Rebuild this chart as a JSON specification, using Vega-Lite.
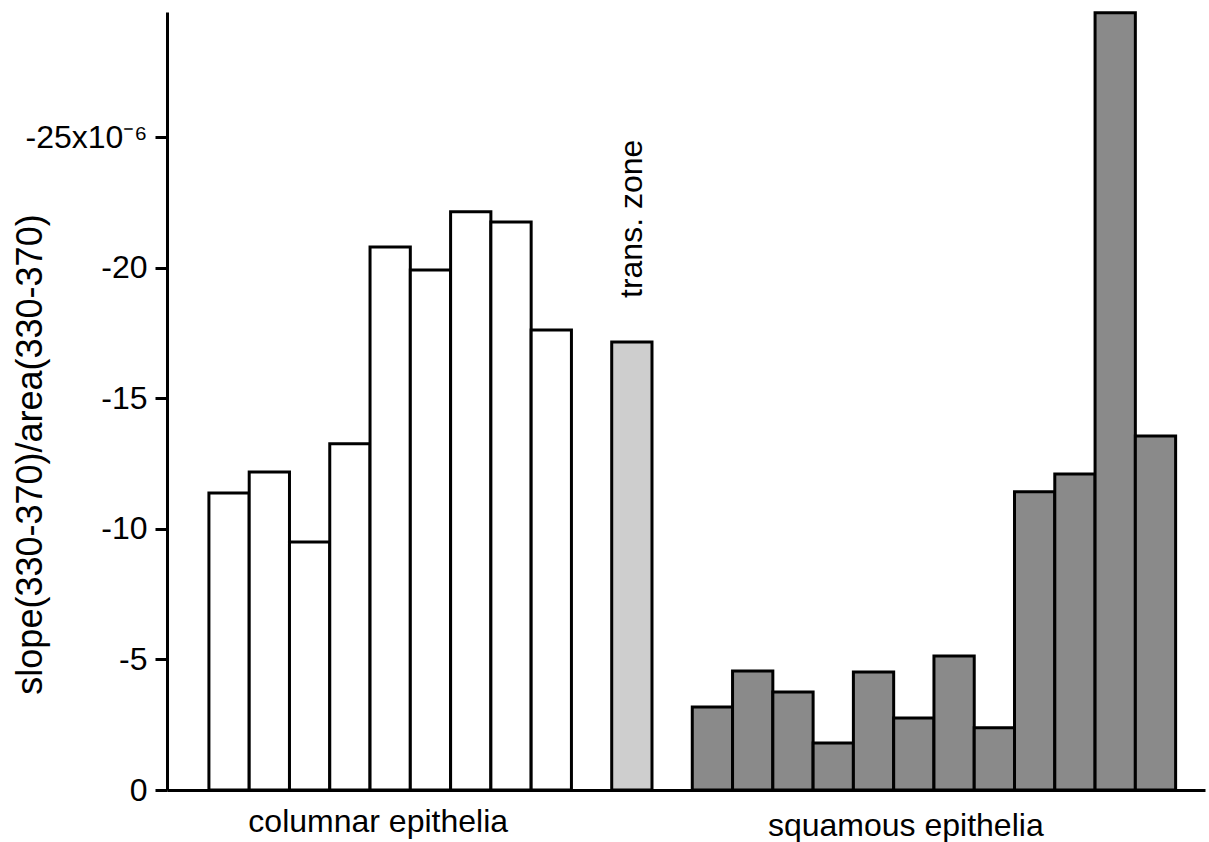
{
  "$schema": "https://vega.github.io/schema/vega-lite/v6.json",
  "width": 1038,
  "height": 778,
  "autosize": {"type": "none"},
  "padding": {"left": 167, "top": 12, "right": 4, "bottom": 52},
  "background": "white",
  "config": {
    "view": {"stroke": null},
    "font": "Liberation Sans",
    "axis": {"grid": false}
  },
  "data": {
    "values": [
      {"id": "c1", "group": "columnar", "value": -11.38, "note": ""},
      {"id": "c2", "group": "columnar", "value": -12.18, "note": ""},
      {"id": "c3", "group": "columnar", "value": -9.5, "note": ""},
      {"id": "c4", "group": "columnar", "value": -13.26, "note": ""},
      {"id": "c5", "group": "columnar", "value": -20.8, "note": ""},
      {"id": "c6", "group": "columnar", "value": -19.92, "note": ""},
      {"id": "c7", "group": "columnar", "value": -22.15, "note": ""},
      {"id": "c8", "group": "columnar", "value": -21.76, "note": ""},
      {"id": "c9", "group": "columnar", "value": -17.62, "note": ""},
      {"id": "t", "group": "trans", "value": -17.16, "note": "trans. zone"},
      {"id": "s1", "group": "squamous", "value": -3.18, "note": ""},
      {"id": "s2", "group": "squamous", "value": -4.56, "note": ""},
      {"id": "s3", "group": "squamous", "value": -3.75, "note": ""},
      {"id": "s4", "group": "squamous", "value": -1.8, "note": ""},
      {"id": "s5", "group": "squamous", "value": -4.52, "note": ""},
      {"id": "s6", "group": "squamous", "value": -2.76, "note": ""},
      {"id": "s7", "group": "squamous", "value": -5.13, "note": ""},
      {"id": "s8", "group": "squamous", "value": -2.38, "note": ""},
      {"id": "s9", "group": "squamous", "value": -11.42, "note": ""},
      {"id": "s10", "group": "squamous", "value": -12.1, "note": ""},
      {"id": "s11", "group": "squamous", "value": -29.77, "note": ""},
      {"id": "s12", "group": "squamous", "value": -13.56, "note": ""}
    ]
  },
  "encoding": {
    "x": {
      "field": "id",
      "type": "nominal",
      "scale": {
        "domain": ["c1","c2","c3","c4","c5","c6","c7","c8","c9","g1","t","g2","s1","s2","s3","s4","s5","s6","s7","s8","s9","s10","s11","s12"],
        "paddingInner": 0,
        "paddingOuter": 0.885,
        "align": 0.588
      },
      "axis": {
        "title": null,
        "ticks": false,
        "domainColor": "black",
        "domainWidth": 3,
        "labelAngle": 0,
        "labelFontSize": 32,
        "labelColor": "black",
        "labelFont": "Liberation Sans",
        "labelBaseline": "top",
        "labelAlign": "center",
        "labelLimit": 0,
        "labelPadding": {"condition": {"test": "datum.value == 'c5'", "value": 16}, "value": 20},
        "labelOffset": {"condition": {"test": "datum.value == 'c5'", "value": -12}, "value": -8},
        "labelOverlap": false,
        "labelBound": false,
        "labelExpr": "datum.value == 'c5' ? 'columnar epithelia' : (datum.value == 's6' ? 'squamous epithelia' : '')"
      }
    },
    "y": {
      "field": "value",
      "type": "quantitative",
      "scale": {"domain": [0, -29.8], "nice": false, "zero": false},
      "axis": {
        "title": "slope(330-370)/area(330-370)",
        "titleFontSize": 36,
        "titleFont": "Liberation Sans",
        "titleFontWeight": "normal",
        "titleColor": "black",
        "titleAngle": -90,
        "titleX": -137,
        "titleY": 442,
        "titleAlign": "center",
        "titleBaseline": "middle",
        "values": [0, -5, -10, -15, -20, -25],
        "labelExpr": "datum.value == -25 ? '-25x10⁻⁶' : '' + datum.value",
        "labelFontSize": 32,
        "labelFont": "Liberation Sans",
        "labelColor": "black",
        "labelLimit": 0,
        "labelPadding": 8,
        "tickSize": 12,
        "tickWidth": 3,
        "tickColor": "black",
        "domainColor": "black",
        "domainWidth": 3
      }
    }
  },
  "layer": [
    {
      "mark": {"type": "bar", "stroke": "black", "strokeWidth": 3, "width": {"band": 1}},
      "encoding": {
        "fill": {
          "field": "group",
          "type": "nominal",
          "scale": {"domain": ["columnar", "trans", "squamous"], "range": ["#ffffff", "#cecece", "#8a8a8a"]},
          "legend": null
        }
      }
    },
    {
      "transform": [{"filter": "datum.note != ''"}],
      "mark": {"type": "text", "angle": 270, "align": "left", "baseline": "middle", "dx": 44, "fontSize": 32, "font": "Liberation Sans", "color": "black"},
      "encoding": {"text": {"field": "note"}}
    }
  ]
}
